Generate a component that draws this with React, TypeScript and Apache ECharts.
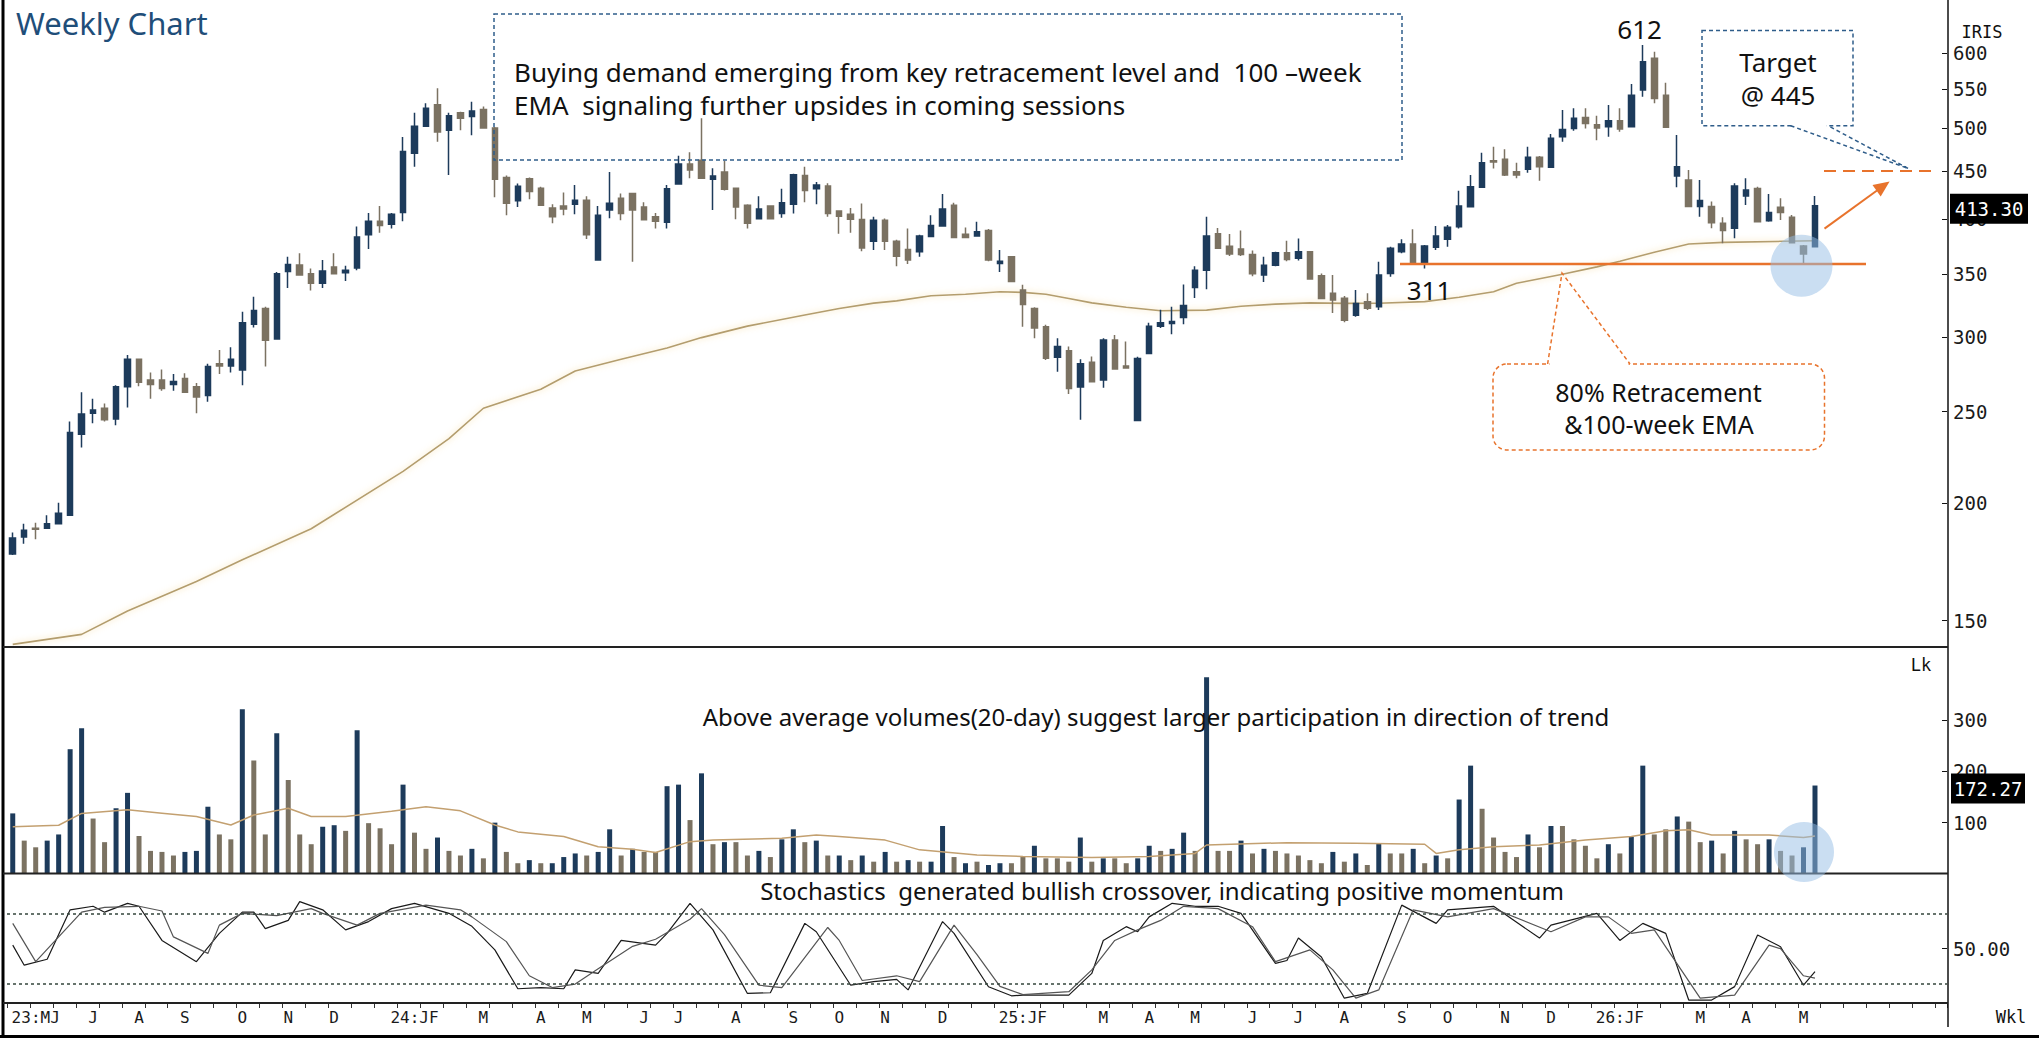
import { useEffect, useRef } from "react";
import * as echarts from "echarts";

// ---------- weekly candles (IRIS) ----------
const OPEN = [
  176.5, 184, 188, 188, 190, 194, 236.5, 249, 252, 245.5,
  265.6, 284, 270, 270, 267, 271, 265.6, 260, 281, 279.5,
  276.7, 309.5, 321.5, 298.5, 352, 357.6, 350, 342, 356, 351,
  355, 385, 398, 395, 406.5, 470, 502, 529, 497, 519,
  514, 523, 500, 443, 418.5, 441.5, 431.5, 411, 413, 415,
  419, 362, 409, 421, 426, 412, 402.4, 397, 436, 457.7,
  462, 441, 449, 431.5, 414, 400.5, 413, 405.5, 415, 445,
  431, 433.7, 408, 405, 399.7, 379, 399, 379, 371.5, 369.4,
  383.5, 393.5, 414, 385.5, 384, 389, 359, 365, 336.5, 321.5,
  307.6, 285.5, 290, 265.5, 282, 270, 297.7, 279.5, 244.6, 288,
  308, 310, 314.6, 338.5, 353, 386, 374.5, 372, 367, 349,
  357.5, 368.5, 363.5, 369.5, 348.4, 333.7, 329.7, 316.4, 327, 323,
  350.4, 369.5, 376.4, 358.5, 373.4, 380.8, 392.8, 412.4, 432.4, 461.5,
  463, 449.3, 451.9, 465.3, 454.1, 489.4, 499.4, 512.9, 504, 501.5,
  508.9, 501.5, 548.5, 592.7, 541.5, 444.6, 440.3, 412.5, 412.5, 396,
  391.3, 423.4, 431.3, 398.6, 411.8, 401.9, 374.7, 374,
];
const HIGH = [
  186, 190, 190.5, 194, 200, 244, 262, 258, 255, 266.5,
  287, 284.5, 275, 277, 274, 274.5, 268, 281, 290.5, 292.5,
  319, 331, 323, 351.5, 365, 368, 354.5, 362, 368, 357,
  393, 406, 413, 406, 489, 519, 531, 551, 519, 520,
  533, 527, 501, 445, 436.5, 443, 433, 415, 427, 435,
  423, 413, 449, 426, 426, 417, 406, 435, 467, 471,
  512, 453, 461.5, 431.5, 415, 423, 414, 431, 447, 454.7,
  438, 436.7, 408, 411, 415.6, 402.4, 400.6, 380.5, 391, 385,
  404, 425.3, 416.3, 392, 397.5, 390.5, 371, 365, 340.8, 322.6,
  309, 299, 293, 284, 286, 299, 301.5, 296.6, 285.8, 310.5,
  320.5, 323, 341, 356.5, 402.4, 391.5, 385.8, 389, 370.5, 365,
  369.5, 379.5, 381.5, 370, 350.4, 349, 331.5, 336.4, 333.7, 360.5,
  374, 380.8, 390.2, 375.6, 393.4, 394.4, 428.9, 445.6, 470.6, 477.6,
  474.5, 459.2, 477.6, 466.8, 492.5, 522.4, 524.5, 524.5, 515, 528.8,
  524.5, 556.6, 612.3, 602.4, 558.4, 491.3, 451.1, 440.3, 417.6, 401.9,
  436.7, 442, 433.1, 425.4, 421, 404.2, 375.6, 423.4,
];
const LOW = [
  176, 181, 183, 188, 190, 194, 229, 243, 244, 241.7,
  252.5, 266, 258, 263, 263, 262, 249, 256, 274, 275,
  266.6, 307, 279, 298.5, 338, 349, 336, 338, 350, 344,
  353, 372, 387, 391, 398, 454.7, 502, 483.4, 445.6, 497,
  491, 500, 422, 404, 412, 420, 414, 396, 404, 405,
  381, 362, 401, 399, 360.5, 399.5, 391, 391, 436, 442,
  442, 409, 429, 400, 391, 400.5, 400.5, 401.5, 405.5, 417,
  415, 402.4, 386, 387, 369.8, 371, 371, 356.6, 358.6, 365,
  383, 393.5, 382.5, 382.5, 383.5, 361, 351.5, 343.5, 307.6, 299,
  283.5, 275.6, 261, 245, 268.5, 265, 277.4, 278, 244.6, 288,
  306.7, 302, 309.5, 330, 337, 372.5, 365.5, 365.5, 348, 343,
  356.6, 361, 361.5, 345.6, 329.6, 318, 311, 315.2, 320.4, 320.4,
  347.6, 368, 358.5, 354.7, 371, 374, 391.1, 412.4, 432.4, 452.9,
  444.6, 442, 448, 439.5, 454.1, 483.4, 496.6, 499.4, 485, 489.3,
  495.3, 501.5, 539.6, 530.9, 500.7, 432.4, 412.5, 402.5, 391.3, 377.1,
  381.7, 414.2, 397.6, 397.6, 399.3, 377.1, 359, 374,
];
const CLOSE = [
  183.5, 187, 187.5, 190, 195, 237.5, 248.5, 251, 245, 265.6,
  284, 268.6, 267, 264.5, 269, 262, 259, 279, 279.5, 284,
  310.5, 320, 297.5, 350, 358, 349, 342, 352.5, 350, 353,
  383, 398, 394, 405, 472, 502, 524.5, 495, 515, 512,
  521, 500, 441, 416, 433.5, 428, 414, 402.4, 410, 419,
  385, 404, 416, 405.5, 409, 399.5, 398, 431, 457.7, 451,
  442, 444.5, 430.5, 412, 396, 410, 400.5, 416.5, 446, 429,
  435, 405.6, 403, 400, 372.8, 399, 379, 365.4, 362, 384,
  394, 410, 382.5, 382.5, 388, 362, 361, 343.5, 324.8, 306.7,
  284.7, 293, 264.5, 281, 268.8, 297.7, 277.4, 278, 284.6, 308,
  310.5, 311.5, 324, 353, 383.9, 372.5, 367.5, 367, 350, 357.5,
  368.5, 362.5, 369.5, 345.6, 329.6, 328.4, 312.4, 325.6, 321.7, 349,
  372.5, 376.4, 358.5, 374.6, 383.9, 392.1, 413.1, 433.1, 459.2, 460,
  445.6, 445.6, 465.3, 454.8, 487.4, 498.2, 511.8, 505.5, 500, 508.9,
  498.6, 541.5, 587.9, 537.4, 500.7, 454.8, 412.5, 418.6, 396.6, 389,
  433.9, 429.6, 397.6, 406.5, 406.5, 377.7, 367.4, 413.3,
];

// ---------- volume (lakh shares) ----------
const VOLUME = [
  118, 65, 52, 65, 77, 243, 284, 108, 62, 128,
  158, 74, 45, 43, 36, 43, 45, 131, 77, 67.5,
  321, 221, 77, 274, 183, 77, 58, 92, 95, 84,
  280, 99, 89, 58, 174, 80.5, 49, 71, 45, 36,
  49, 30.5, 100, 43, 21, 27, 21, 21, 33, 40,
  36, 43, 87, 36, 49, 43, 43, 171, 174, 105,
  196, 58, 62, 62, 36, 45, 33, 67.5, 87, 62,
  65, 36, 36, 27, 36, 24, 43, 24, 27, 24,
  24, 93.5, 33, 21, 24, 17.5, 21, 21, 35, 55,
  30.5, 30.5, 24, 71, 24, 30.5, 30.5, 21, 30.5, 55,
  45, 49, 80.5, 45, 383, 45, 45, 65, 40, 49,
  45, 40, 36, 27, 21, 43, 24, 40, 17.5, 60,
  40, 40, 49, 21, 36, 30.5, 145, 211, 127, 71,
  43, 33, 77, 52, 93.5, 93.5, 67.5, 55, 30.5, 58,
  40, 72, 211, 77, 87, 112, 102, 62, 65, 40,
  84, 67.5, 58, 67.5, 45, 36, 52, 172.27,
];
const VOLUME_UP = [
  1, 0, 0, 1, 1, 1, 1, 0, 0, 1,
  1, 0, 0, 0, 0, 1, 1, 1, 0, 0,
  1, 0, 0, 1, 0, 0, 0, 1, 1, 0,
  1, 0, 0, 0, 1, 0, 0, 1, 0, 0,
  1, 0, 1, 0, 0, 1, 0, 1, 1, 1,
  0, 1, 1, 0, 1, 0, 0, 1, 1, 0,
  1, 0, 1, 0, 0, 1, 0, 1, 1, 0,
  1, 0, 1, 0, 1, 0, 1, 0, 1, 0,
  1, 1, 0, 1, 0, 1, 1, 0, 0, 1,
  0, 0, 0, 1, 0, 1, 0, 0, 1, 1,
  0, 1, 1, 0, 1, 0, 0, 1, 0, 1,
  0, 0, 0, 0, 0, 1, 0, 1, 0, 1,
  0, 0, 1, 0, 1, 0, 1, 1, 0, 0,
  0, 0, 1, 0, 1, 0, 0, 0, 0, 1,
  0, 1, 1, 0, 0, 1, 0, 0, 1, 0,
  1, 0, 0, 1, 0, 0, 1, 1,
];

// ---------- 100-week EMA (read at these weeks) ----------
const EMA_WEEKS = [1, 7, 11, 17, 21, 27, 35, 39, 42, 47, 50, 54, 58, 61, 65, 70, 73, 76, 78, 81, 84, 87, 89, 91, 93, 95, 98, 101, 105, 108, 111, 114, 117, 120, 124, 127, 130, 132, 136, 139, 141, 144, 147, 150, 158];
const EMA_VALUES = [141.5, 145, 153.5, 165, 174, 187.7, 216, 234, 252, 264, 276, 284, 292, 299.5, 308, 316.5, 321.6, 325.8, 327.6, 331.7, 333, 335, 334.5, 333, 329.5, 326, 322.5, 319.8, 320.3, 323.4, 325, 326, 325.6, 325.7, 327, 330.5, 335, 342, 349.6, 356, 361, 369, 376.5, 378, 379.5];

// ---------- 20-period volume average ----------
const VMA_WEEKS = [1, 5, 7, 11, 14, 17, 20, 22, 25, 27, 30, 34, 37, 40, 43, 45, 49, 52, 55, 57, 60, 62, 68, 71, 73, 77, 80, 85, 89, 95, 100, 104, 105, 112, 118, 124, 125, 127, 130, 134, 138, 142, 145, 147, 149, 154, 157, 158];
const VMA_VALUES = [92, 95, 118, 125, 118.5, 112, 95.5, 115, 128, 112, 112, 122, 131, 123, 95.5, 82, 73, 53, 48, 42, 63, 66, 69.5, 76, 73, 66, 47, 37, 34, 32, 34, 40, 56.5, 61, 60, 58, 40, 47, 53, 56.5, 66, 73, 84, 86, 76, 76, 71, 74];

// ---------- stochastics %K / %D ----------
const K_WEEKS = [1, 2, 4, 6, 8, 9, 11, 12, 14, 17, 19, 21, 22, 23, 25, 26, 28, 30, 32, 34, 36, 39, 41, 43, 45, 47, 49, 50, 52, 54, 57, 58, 60, 62, 65, 67, 70, 71, 74, 76, 78, 79, 82, 83, 86, 88, 89, 91, 93, 95, 96, 98, 99, 100, 102, 104, 106, 108, 111, 112, 113, 115, 117, 119, 122, 125, 126, 130, 134, 135, 139, 141, 143, 145, 147, 149, 151, 153, 155, 157, 158];
const K_VALUES = [53, 36, 41, 83, 86, 81, 88.5, 86, 57, 39, 63, 81, 81, 67, 74, 90, 83, 66, 73, 84, 88.5, 80, 69, 49, 16, 17, 16, 32, 29, 57, 53, 63, 88.5, 66, 12, 12.6, 71.5, 64.4, 19, 22, 24, 15, 73, 63, 17.7, 10, 10.6, 10.6, 10.6, 29, 57, 68.7, 64.4, 77, 88.5, 86, 86, 80, 37.5, 40, 59, 43, 8, 12, 87, 71.5, 83, 86, 59, 70, 80, 57, 71.5, 63, 6.4, 6.4, 17.8, 61.6, 51.7, 19, 30.5];
const D_WEEKS = [1, 3, 7, 9, 12, 14, 15, 18, 19, 21, 24, 27, 28, 31, 33, 37, 40, 41, 44, 46, 48, 50, 52, 55, 57, 60, 61, 63, 66, 68, 72, 73, 75, 78, 80, 83, 85, 87, 89, 93, 95, 97, 99, 101, 103, 106, 109, 111, 114, 116, 118, 120, 123, 126, 130, 135, 138, 140, 142, 144, 148, 151, 154, 155, 157, 158];
const D_VALUES = [71.5, 39, 81, 85, 86, 82, 60, 46, 70, 80, 78, 84, 80, 70, 80, 87, 83, 77, 56, 27, 17, 20, 33, 52, 58, 75, 84, 62, 19, 17, 68, 57, 23, 27, 22, 70, 45, 18, 11, 13.5, 32, 57, 66, 74, 86, 84, 68.7, 39, 49, 32, 8, 15, 83, 77, 84, 64.4, 77, 77, 63, 66, 8, 10.6, 53, 50, 27, 25];

// ---------- axis labels ----------
const MONTH_WEEKS = [3, 8, 12, 16, 21, 25, 29, 36, 42, 47, 51, 56, 59, 64, 69, 73, 77, 82, 89, 96, 100, 104, 109, 113, 117, 122, 126, 131, 135, 141, 148, 152, 157];
const MONTH_LABELS = ["23:MJ", "J", "A", "S", "O", "N", "D", "24:JF", "M", "A", "M", "J", "J", "A", "S", "O", "N", "D", "25:JF", "M", "A", "M", "J", "J", "A", "S", "O", "N", "D", "26:JF", "M", "A", "M"];
const PRICE_TICKS = [150, 200, 250, 300, 350, 400, 450, 500, 550, 600];
const VOLUME_TICKS = [100, 200, 300];
const STOCH_TICKS = [50];
const STOCH_BANDS = [20, 80];

// ---------- annotation values ----------
const LAST_PRICE = 413.3;
const LAST_VOLUME = 172.27;
const SUPPORT_LEVEL = 358.6;
const TARGET_LINE = 450;
const EXTRA_SLOTS = 11;

const UP = "#1d3b5b";
const DOWN = "#7b7262";
const ORANGE = "#e8732c";
const NAVY = "#2f5d8a";
const NOTE_FONT = '"Noto Sans", sans-serif';
const AXIS_FONT = '"DejaVu Sans Mono", monospace';

function txt(x: number, y: number, text: string, size: number, extra: any = {}) {
  const align = extra.align || "center";
  return {
    type: "text",
    x,
    y,
    z: 60,
    silent: true,
    style: {
      text,
      fontSize: size,
      fontFamily: extra.fontFamily || NOTE_FONT,
      fontWeight: extra.fontWeight || "normal",
      fill: extra.fill || "#111",
      lineHeight: size,
      align,
      textAlign: align,
      verticalAlign: "middle",
      textVerticalAlign: "middle",
    },
  };
}

export default function App() {
  const ref = useRef<HTMLDivElement | null>(null);

  useEffect(() => {
    const el = ref.current;
    if (!el) return;
    const chart = echarts.init(el, null, { renderer: "svg" });
    const slots = OPEN.length + EXTRA_SLOTS;
    const cats = Array.from({ length: slots }, (_, i) => `W${i + 1}`);
    const sparse = (weeks: number[], vals: number[]) => {
      const a: (number | null)[] = new Array(slots).fill(null);
      weeks.forEach((w, i) => {
        a[w - 1] = vals[i];
      });
      return a;
    };
    const candles = OPEN.map((o, i) => [o, CLOSE[i], LOW[i], HIGH[i]]);
    const vol = VOLUME.map((v, i) => ({ value: v, itemStyle: { color: VOLUME_UP[i] ? UP : DOWN } }));
    const monthAt = new Map<number, string>(MONTH_WEEKS.map((w, i) => [w - 1, MONTH_LABELS[i]]));

    const GL = 7;
    const GW = 1940;
    const hiddenX = (g: number) => ({
      type: "category",
      gridIndex: g,
      data: cats,
      boundaryGap: true,
      axisLine: { show: false },
      axisTick: { show: false },
      axisLabel: { show: false },
      splitLine: { show: false },
    });
    const labelStyle = { fontFamily: AXIS_FONT, fontSize: 19, color: "#1a1a1a", margin: 6 };

    chart.setOption({
      animation: false,
      backgroundColor: "#ffffff",
      grid: [
        { left: GL, width: GW, top: 0, height: 647 },
        { left: GL, width: GW, top: 647, height: 227 },
        { left: GL, width: GW, top: 874, height: 129 },
      ],
      xAxis: [
        hiddenX(0),
        hiddenX(1),
        {
          ...hiddenX(2),
          axisTick: { show: true, interval: 1, length: 5, lineStyle: { color: "#333", width: 1 } },
          axisLabel: {
            show: true,
            interval: 0,
            margin: 6,
            fontFamily: AXIS_FONT,
            fontSize: 16,
            color: "#1a1a1a",
            formatter: (_v: string, idx: number) => monthAt.get(idx) ?? "",
          },
        },
      ],
      yAxis: [
        {
          type: "log",
          logBase: 10,
          gridIndex: 0,
          position: "right",
          min: 140.6,
          max: 683.5,
          axisLine: { show: false },
          splitLine: { show: false },
          axisTick: { show: true, inside: true, length: 5, customValues: PRICE_TICKS, lineStyle: { color: "#111" } },
          axisLabel: { ...labelStyle, customValues: PRICE_TICKS },
        },
        {
          type: "value",
          gridIndex: 1,
          position: "right",
          min: 0,
          max: 442,
          axisLine: { show: false },
          splitLine: { show: false },
          axisTick: { show: true, inside: true, length: 5, customValues: VOLUME_TICKS, lineStyle: { color: "#111" } },
          axisLabel: { ...labelStyle, customValues: VOLUME_TICKS },
        },
        {
          type: "value",
          gridIndex: 2,
          position: "right",
          min: 3.9,
          max: 113.4,
          axisLine: { show: false },
          splitLine: { show: false },
          axisTick: { show: true, inside: true, length: 5, customValues: STOCH_TICKS, lineStyle: { color: "#111" } },
          axisLabel: { ...labelStyle, customValues: STOCH_TICKS, formatter: (v: number) => v.toFixed(2) },
        },
      ],
      series: [
        {
          type: "line",
          name: "EMA100",
          xAxisIndex: 0,
          yAxisIndex: 0,
          data: sparse(EMA_WEEKS, EMA_VALUES),
          connectNulls: true,
          symbol: "none",
          z: 1,
          lineStyle: { color: "#b39d6e", width: 1.6, shadowColor: "rgba(245,215,150,0.9)", shadowBlur: 6 },
        },
        {
          type: "candlestick",
          name: "IRIS",
          xAxisIndex: 0,
          yAxisIndex: 0,
          data: candles,
          barWidth: 6,
          itemStyle: { color: UP, color0: DOWN, borderColor: UP, borderColor0: DOWN, borderWidth: 1.5 },
        },
        {
          type: "bar",
          name: "Volume",
          xAxisIndex: 1,
          yAxisIndex: 1,
          data: vol,
          barWidth: 5,
        },
        {
          type: "line",
          name: "VolAvg",
          xAxisIndex: 1,
          yAxisIndex: 1,
          data: sparse(VMA_WEEKS, VMA_VALUES),
          connectNulls: true,
          symbol: "none",
          lineStyle: { color: "#c3a070", width: 1.5 },
        },
        {
          type: "line",
          name: "%K",
          xAxisIndex: 2,
          yAxisIndex: 2,
          data: sparse(K_WEEKS, K_VALUES),
          connectNulls: true,
          symbol: "none",
          lineStyle: { color: "#1a1a1a", width: 1.2 },
          markLine: {
            silent: true,
            symbol: "none",
            label: { show: false },
            lineStyle: { type: [3, 3], color: "#34463c", width: 1.6 },
            data: STOCH_BANDS.map((b) => ({ yAxis: b })),
          },
        },
        {
          type: "line",
          name: "%D",
          xAxisIndex: 2,
          yAxisIndex: 2,
          data: sparse(D_WEEKS, D_VALUES),
          connectNulls: true,
          symbol: "none",
          lineStyle: { color: "#555555", width: 1.2 },
        },
      ],
    });

    const py = (v: number) => chart.convertToPixel({ yAxisIndex: 0 } as any, v) as unknown as number;
    const vy = (v: number) => chart.convertToPixel({ yAxisIndex: 1 } as any, v) as unknown as number;
    const support = py(SUPPORT_LEVEL);
    const target = py(TARGET_LINE);
    const lastP = py(LAST_PRICE);
    const lastV = vy(LAST_VOLUME);

    const elements: any[] = [
      // frame and panel separators
      { type: "line", z: 40, shape: { x1: 3, y1: 0, x2: 3, y2: 1038 }, style: { stroke: "#000", lineWidth: 3 } },
      { type: "line", z: 40, shape: { x1: 0, y1: 1036.5, x2: 2039, y2: 1036.5 }, style: { stroke: "#000", lineWidth: 3 } },
      { type: "line", z: 40, shape: { x1: 1948, y1: 0, x2: 1948, y2: 1027 }, style: { stroke: "#111", lineWidth: 1.5 } },
      ...[647, 873.5, 1003].map((y) => ({
        type: "line",
        z: 40,
        shape: { x1: 3, y1: y, x2: 1948, y2: y },
        style: { stroke: "#222", lineWidth: 2 },
      })),

      // title
      txt(16, 23, "Weekly Chart", 31, { align: "left", fill: "#1f4e79" }),

      // main commentary box
      { type: "rect", z: 50, shape: { x: 494, y: 14, width: 908, height: 146 }, style: { fill: "none", stroke: NAVY, lineWidth: 1.5, lineDash: [4, 3] } },
      txt(514, 72, "Buying demand emerging from key retracement level and  100 \u2013week", 26, { align: "left" }),
      txt(514, 104.5, "EMA  signaling further upsides in coming sessions", 26, { align: "left" }),

      // swing labels
      txt(1639.6, 28.6, "612", 26),
      txt(1429, 290, "311", 26),

      // target callout
      { type: "rect", z: 50, shape: { x: 1702, y: 30.4, width: 151, height: 95.3 }, style: { fill: "none", stroke: NAVY, lineWidth: 1.5, lineDash: [4, 3] } },
      { type: "line", z: 51, shape: { x1: 1792, y1: 125.7, x2: 1826.5, y2: 125.7 }, style: { stroke: "#fff", lineWidth: 4 } },
      { type: "polyline", z: 52, shape: { points: [[1790.6, 125.7], [1908.5, 168.6], [1828, 125.7]] }, style: { fill: "none", stroke: NAVY, lineWidth: 1.5, lineDash: [4, 3] } },
      txt(1778, 62, "Target", 26),
      txt(1778, 95, "@ 445", 26),

      // target level, support level, arrow
      { type: "line", z: 50, shape: { x1: 1824, y1: target, x2: 1932, y2: target }, style: { stroke: ORANGE, lineWidth: 2, lineDash: [12, 7] } },
      { type: "line", z: 50, shape: { x1: 1400, y1: support, x2: 1866, y2: support }, style: { stroke: ORANGE, lineWidth: 2.5 } },
      { type: "line", z: 50, shape: { x1: 1824.5, y1: 228.6, x2: 1877, y2: 190.5 }, style: { stroke: ORANGE, lineWidth: 2 } },
      { type: "polygon", z: 50, shape: { points: [[1889.6, 181.4], [1880.7, 196.5], [1872.5, 185.1]] }, style: { fill: ORANGE } },

      // highlight circles
      { type: "circle", z: 55, shape: { cx: 1801.5, cy: 265.7, r: 31 }, style: { fill: "rgba(150,190,230,0.5)" } },
      { type: "circle", z: 55, shape: { cx: 1804, cy: 852, r: 30 }, style: { fill: "rgba(150,190,230,0.5)" } },

      // retracement callout
      { type: "rect", z: 50, shape: { x: 1493, y: 364, width: 331.5, height: 86, r: 14 }, style: { fill: "none", stroke: ORANGE, lineWidth: 1.5, lineDash: [4, 3] } },
      { type: "line", z: 51, shape: { x1: 1549.5, y1: 364, x2: 1628.5, y2: 364 }, style: { stroke: "#fff", lineWidth: 4 } },
      { type: "polyline", z: 52, shape: { points: [[1547.6, 364], [1562, 273], [1630, 364]] }, style: { fill: "none", stroke: ORANGE, lineWidth: 1.5, lineDash: [4, 3] } },
      txt(1658.5, 392, "80% Retracement", 25),
      txt(1659, 424, "&100-week EMA", 25),

      // panel notes
      txt(1156, 716, "Above average volumes(20-day) suggest larger participation in direction of trend", 24),
      txt(1162, 890, "Stochastics  generated bullish crossover, indicating positive momentum", 24),

      // last value boxes
      { type: "rect", z: 70, shape: { x: 1950, y: lastP - 12, width: 78, height: 30 }, style: { fill: "#000" } },
      { ...txt(1989, lastP + 3, LAST_PRICE.toFixed(2), 19, { fill: "#fff", fontFamily: AXIS_FONT }), z: 71 },
      { type: "rect", z: 70, shape: { x: 1951, y: lastV - 12, width: 74, height: 30 }, style: { fill: "#000" } },
      { ...txt(1988, lastV + 3, LAST_VOLUME.toFixed(2), 19, { fill: "#fff", fontFamily: AXIS_FONT }), z: 71 },

      // axis captions
      txt(1982, 32, "IRIS", 17, { fontFamily: AXIS_FONT }),
      txt(1921, 665, "Lk", 17, { fontFamily: AXIS_FONT }),
      txt(2011, 1017, "Wkl", 17, { fontFamily: AXIS_FONT }),
    ];

    chart.setOption({ graphic: { elements } });

    return () => {
      chart.dispose();
    };
  }, []);

  return (
    <div
      ref={ref}
      style={{ position: "absolute", left: 0, top: 0, width: 2039, height: 1038, background: "#fff" }}
    />
  );
}
